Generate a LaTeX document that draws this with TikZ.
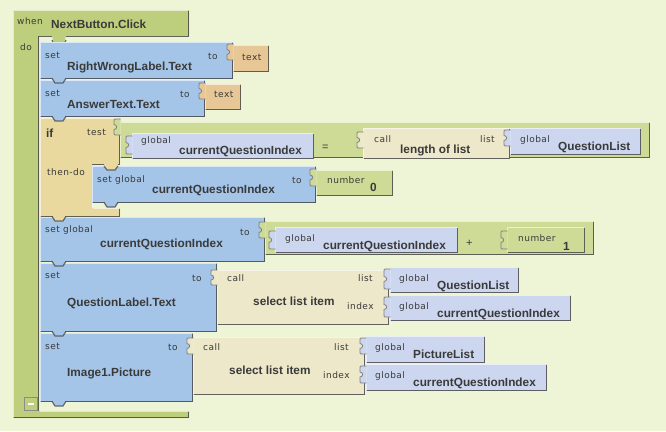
\documentclass[tikz,border=0pt]{standalone}
\usepackage{fontspec}
\setmainfont{Liberation Sans}
\newfontfamily\tagfont[LetterSpace=5]{DejaVu Sans}
\definecolor{bg}{HTML}{EEF5D6}
\definecolor{evt}{HTML}{BDCE7C}
\definecolor{setb}{HTML}{A4C5E8}
\definecolor{txtb}{HTML}{E8C796}
\definecolor{ctl}{HTML}{EAD99E}
\definecolor{mathb}{HTML}{CDDB97}
\definecolor{callb}{HTML}{EDE8C9}
\definecolor{glob}{HTML}{CCD6EE}
\definecolor{ink}{HTML}{3A3A3A}
\tikzset{
  lbl/.style={anchor=base west,inner sep=0pt,text=ink,font=\tagfont\fontsize{9}{10}\selectfont},
  big/.style={anchor=base west,inner sep=0pt,text=ink,font=\bfseries\fontsize{11.8}{13}\selectfont},
}
% light top/left edge, dark bottom/right edge
\newcommand\bevel[4]{%
  \draw[white,opacity=.6,line width=1pt] (#1+.5,#4-1) -- (#1+.5,#2+.5) -- (#3-1,#2+.5);
  \draw[black!75,opacity=.8,line width=1.4pt] (#1+.7,#4-.7) -- (#3-.7,#4-.7) -- (#3-.7,#2+1);
}
\newcommand\blk[5]{\fill[#5] (#1,#2) rectangle (#3,#4); \bevel{#1}{#2}{#3}{#4}}
% value plug on the left side of a block: x, top, height, colour
\newcommand\plug[4]{%
  \filldraw[fill=#4,draw=black!50,line width=.8pt] (#1+.5,#2) -- (#1-4,#2)
    .. controls (#1-6,#2) .. (#1-6,#2+2) -- (#1-6,#2+#3/2-2.5)
    .. controls (#1-2.5,#2+#3/2-2.5) and (#1-2.5,#2+#3/2+2.5) .. (#1-6,#2+#3/2+2.5)
    -- (#1-6,#2+#3-2) .. controls (#1-6,#2+#3) .. (#1-4,#2+#3) -- (#1+.5,#2+#3);
}
% statement tab below a block: block left x, bottom y, colour
\newcommand\stab[3]{%
  \fill[#3] (#1+12,#2-1.5) -- (#1+15,#2+4) -- (#1+23,#2+4) -- (#1+26,#2-1.5) -- cycle;
  \draw[black!70,opacity=.8,line width=1.2pt] (#1+12,#2-.7) -- (#1+15,#2+4) -- (#1+23,#2+4) -- (#1+26,#2-.7);
}
\begin{document}
\begin{tikzpicture}[x=1pt,y=-1pt]
\fill[bg] (0,0) rectangle (666,431);
\useasboundingbox (0,0) rectangle (666,431);

% event handler frame
\fill[evt] (13,10) -- (189,10) -- (189,36) -- (39,36) -- (39,411) -- (189,411) -- (189,418) -- (13,418) -- cycle;
\draw[white,opacity=.6,line width=1pt] (13.5,417) -- (13.5,10.5) -- (188,10.5);
\draw[white,opacity=.6,line width=1pt] (39.5,411.5) -- (188,411.5);
\draw[black!75,opacity=.8,line width=1.4pt] (188.3,11) -- (188.3,36.3) -- (38.7,36.3) -- (38.7,411);
\draw[black!75,opacity=.8,line width=1.4pt] (13.7,417.3) -- (188.3,417.3) -- (188.3,412);
\fill[evt] (52,36) -- (55,46) -- (63,46) -- (66,36) -- cycle;
\draw[black!70,opacity=.8,line width=1.2pt] (52,40) -- (55,46) -- (63,46) -- (66,40);
\draw[black!45,line width=1pt] (24.5,397.5) rectangle (37.5,410.5);
\draw[white,line width=1.2pt] (28,404) -- (34,404);
\node[lbl] (when) at (17,24) {when};
\node[big] (evname) at (51,28) {NextButton.Click};
\node[lbl] (do) at (20,50) {do};

% set RightWrongLabel.Text
\blk{40}{42}{233}{79}{setb}
\blk{233}{45}{269}{72}{txtb}
\plug{233}{44}{16}{txtb}
\node[lbl] (set1) at (45,58) {set};
\node[big] (rwl) at (67,70) {RightWrongLabel.Text};
\node[lbl] (to1) at (208,59) {to};
\node[lbl] (txt1) at (242,60) {text};

% set AnswerText.Text
\blk{40}{80}{205}{117}{setb}
\blk{205}{84}{241}{110}{txtb}
\plug{205}{83}{16}{txtb}
\node[lbl] (set2) at (45,96) {set};
\node[big] (ans) at (67,108) {AnswerText.Text};
\node[lbl] (to2) at (180,97) {to};
\node[lbl] (txt2) at (214,97) {text};

% if / then-do
\fill[ctl] (40,118) -- (120,118) -- (120,165) -- (92,165) -- (92,208) -- (120,208) -- (120,217) -- (40,217) -- cycle;
\draw[white,opacity=.6,line width=1pt] (40.5,216) -- (40.5,118.5) -- (119,118.5);
\draw[white,opacity=.6,line width=1pt] (92.5,207) -- (92.5,165.5);
\draw[white,opacity=.6,line width=1pt] (93,208.5) -- (119,208.5);
\draw[black!75,opacity=.8,line width=1.4pt] (119.3,119) -- (119.3,164.3) -- (92,164.3);
\draw[black!75,opacity=.8,line width=1.4pt] (40.7,216.3) -- (119.3,216.3) -- (119.3,209);
\node[big] (if) at (46,137) {if};
\node[lbl] (test) at (87,135) {test};
\node[lbl] (thendo) at (47,175) {then-do};

% test: currentQuestionIndex = length of list QuestionList
\fill[mathb] (120,122) rectangle (650,158);
\bevel{120}{122}{650}{158}
\plug{120}{119}{16}{mathb}
\blk{132}{133}{314}{159}{glob}
\plug{132}{136}{18}{glob}
\node[lbl] (g1) at (141,143) {global};
\node[big] (cqi1) at (179,154) {currentQuestionIndex};
\node[big,font=\fontsize{11}{12}\selectfont] (eq) at (322,150) {=};
\blk{363}{128}{510}{159}{callb}
\plug{363}{132}{16}{callb}
\node[lbl] (call1) at (374,142) {call};
\node[big] (lol) at (400,153) {length of list};
\node[lbl] (list1) at (480,142) {list};
\blk{510}{128}{641}{155}{glob}
\plug{510}{130}{16}{glob}
\node[lbl] (g2) at (520,142) {global};
\node[big] (ql1) at (558,150) {QuestionList};

% then-do: set global currentQuestionIndex to 0
\blk{92}{166}{316}{203}{setb}
\blk{316}{170}{393}{196}{mathb}
\plug{316}{169}{17}{mathb}
\node[lbl] (setg1) at (97,182) {set global};
\node[big] (cqi2) at (152,193) {currentQuestionIndex};
\node[lbl] (to3) at (292,183) {to};
\node[lbl] (num0) at (327,183) {number};
\node[big] (zero) at (370,191) {0};

% set global currentQuestionIndex to currentQuestionIndex + 1
\blk{40}{217}{265}{262}{setb}
\fill[mathb] (265,221) rectangle (594,255);
\bevel{265}{221}{594}{255}
\plug{265}{222}{16}{mathb}
\blk{275}{227}{458}{253}{glob}
\plug{275}{231}{18}{glob}
\blk{507}{227}{585}{253}{mathb}
\plug{507}{231}{18}{mathb}
\node[lbl] (setg2) at (45,232) {set global};
\node[big] (cqi3) at (100,247) {currentQuestionIndex};
\node[lbl] (to4) at (240,235) {to};
\node[lbl] (g3) at (285,241) {global};
\node[big] (cqi4) at (323,249) {currentQuestionIndex};
\node[big,font=\fontsize{11}{12}\selectfont] (plus) at (466,246) {+};
\node[lbl] (num1) at (518,241) {number};
\node[big] (one) at (563,250) {1};

% set QuestionLabel.Text to select list item
\blk{40}{263}{217}{332}{setb}
\blk{217}{270}{389}{325}{callb}
\plug{217}{270}{15}{callb}
\blk{390}{267}{519}{293}{glob}
\plug{390}{269}{20}{glob}
\blk{390}{295}{571}{321}{glob}
\plug{390}{297}{20}{glob}
\node[lbl] (set3) at (45,278) {set};
\node[big] (qlt) at (67,306) {QuestionLabel.Text};
\node[lbl] (to5) at (192,281) {to};
\node[lbl] (call2) at (227,281) {call};
\node[big] (sli1) at (253,305) {select list item};
\node[lbl] (list2) at (358,281) {list};
\node[lbl] (idx1) at (347,309) {index};
\node[lbl] (g4) at (399,281) {global};
\node[big] (ql2) at (437,289) {QuestionList};
\node[lbl] (g5) at (399,309) {global};
\node[big] (cqi5) at (437,317) {currentQuestionIndex};

% set Image1.Picture to select list item
\blk{40}{333}{193}{402}{setb}
\blk{193}{337}{365}{395}{callb}
\plug{193}{338}{16}{callb}
\blk{366}{336}{485}{363}{glob}
\plug{366}{338}{16}{glob}
\blk{366}{364}{547}{391}{glob}
\plug{366}{366}{17}{glob}
\node[lbl] (set4) at (45,349) {set};
\node[big] (img) at (67,376) {Image1.Picture};
\node[lbl] (to6) at (168,350) {to};
\node[lbl] (call3) at (203,350) {call};
\node[big] (sli2) at (229,374) {select list item};
\node[lbl] (list3) at (334,350) {list};
\node[lbl] (idx2) at (323,378) {index};
\node[lbl] (g6) at (375,350) {global};
\node[big] (pl) at (413,358) {PictureList};
\node[lbl] (g7) at (375,378) {global};
\node[big] (cqi6) at (413,386) {currentQuestionIndex};

% statement tabs joining the stack
\stab{40}{79}{setb}
\stab{40}{117}{setb}
\fill[ctl] (104,164) -- (107,170) -- (115,170) -- (118,164) -- cycle;
\draw[black!70,opacity=.8,line width=1.2pt] (104,166) -- (107,170) -- (115,170) -- (118,166);
\stab{92}{203}{setb}
\stab{40}{217}{ctl}
\stab{40}{262}{setb}
\stab{40}{332}{setb}
\stab{40}{402}{setb}
\end{tikzpicture}
\end{document}
